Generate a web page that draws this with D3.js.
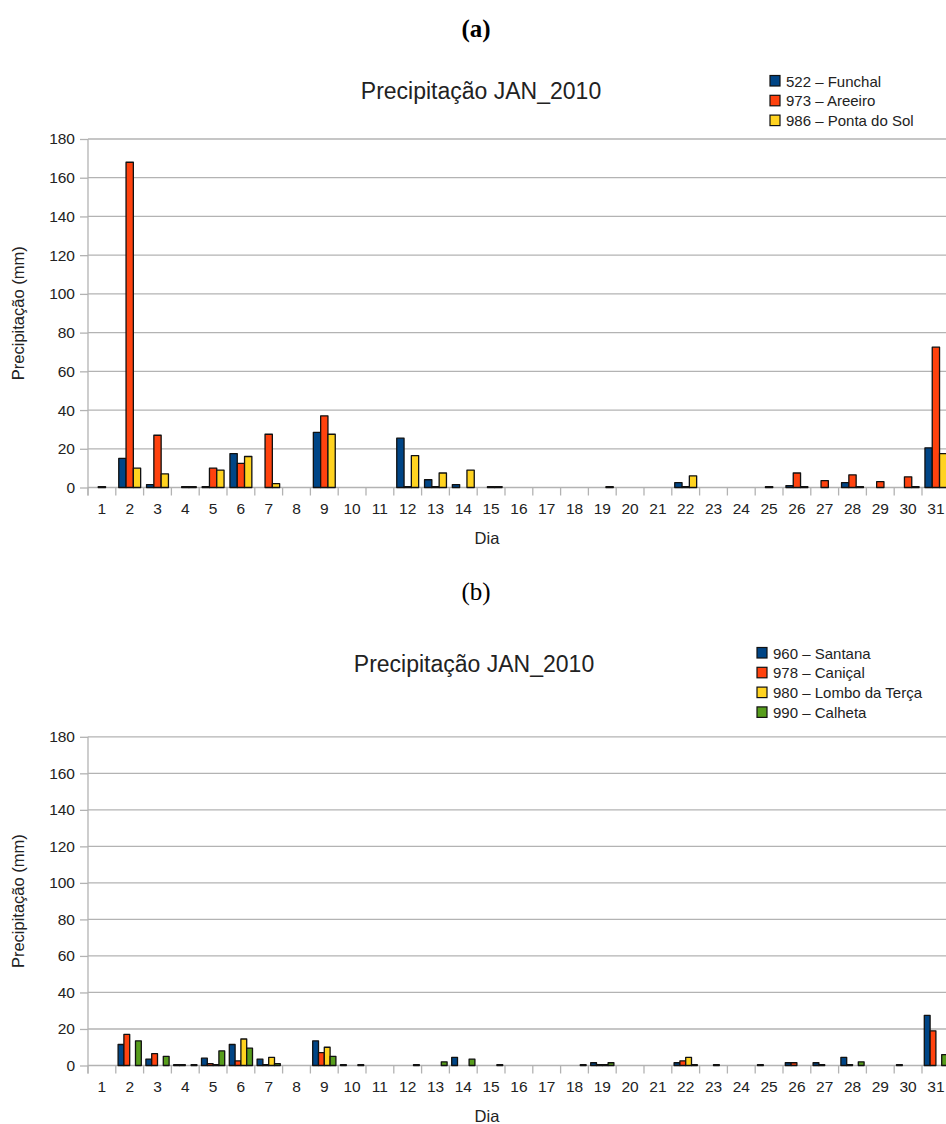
<!DOCTYPE html>
<html>
<head>
<meta charset="utf-8">
<script src="https://cdn.jsdelivr.net/npm/d3@7"></script>
<style>
  html, body { margin: 0; padding: 0; background: #fff; }
  svg { display: block; }
  text { font-family: "Liberation Sans", Arial, sans-serif; fill: #222; }
</style>
</head>
<body>
<svg id="chart" width="946" height="1124"></svg>
<script>
// ---------- DATA ----------
const days = ["1","2","3","4","5","6","7","8","9","10","11","12","13","14","15","16","17","18","19","20","21","22","23","24","25","26","27","28","29","30","31"];
const yTicks = [0, 20, 40, 60, 80, 100, 120, 140, 160, 180];

// Panel (a)
const namesA = ["522 – Funchal", "973 – Areeiro", "986 – Ponta do Sol"];
const funchal522 = [null,15,1.5,null,0,17.5,null,null,28.5,null,null,25.5,4,1.5,null,null,null,null,null,null,null,2.5,null,null,null,1,null,2.5,null,null,20.5];
const areeiro973 = [0,168,27,0,10,12.5,27.5,null,37,null,null,0,0,null,0,null,null,null,null,null,null,0,null,null,0,7.5,3.5,6.5,3,5.5,72.5];
const pontaDoSol986 = [null,10,7,0,9,16,2,null,27.5,null,null,16.5,7.5,9,0.5,null,null,null,0,null,null,6,null,null,null,0,null,0,null,0,17.5];

// Panel (b)
const namesB = ["960 – Santana", "978 – Caniçal", "980 – Lombo da Terça", "990 – Calheta"];
const santana960 = [null,11.5,3.5,0,4,11.5,3.5,null,13.5,0,null,null,null,4.5,null,null,null,null,1.5,null,null,1.5,null,null,0,1.5,1.5,4.5,null,0,27.5];
const canical978 = [null,17,6.5,0,1,2.5,0,null,7,null,null,null,null,null,null,null,null,null,0.5,null,null,2.5,null,null,null,1.5,0,0.5,null,null,19];
const lomboDaTerca980 = [null,null,null,null,0,14.5,4.5,null,10,null,null,null,null,null,null,null,null,null,0.5,null,null,4.5,0,null,null,null,null,null,null,null,null];
const calheta990 = [null,13.5,5,0,8,9.5,1,null,5,0,null,0,2,3.5,0,null,null,0,1.5,null,null,0,null,null,null,null,null,2,null,null,6];

const palette = ["#004586", "#ff420e", "#ffd320", "#579d1c"];

// ---------- DRAW ----------
const svg = d3.select("#chart");

svg.append("text").attr("x", 476).attr("y", 37).attr("text-anchor", "middle")
  .style("font-family", "'Liberation Serif', 'Times New Roman', serif")
  .style("font-weight", "bold").style("font-size", "25px").style("fill", "#000").text("(a)");
svg.append("text").attr("x", 476).attr("y", 600).attr("text-anchor", "middle")
  .style("font-family", "'Liberation Serif', 'Times New Roman', serif")
  .style("font-size", "25px").style("fill", "#000").text("(b)");

function drawPanel(cfg) {
  const g = svg.append("g");
  const x = d3.scaleBand().domain(days).range([88, 88 + 31 * 27.8]).padding(0);
  const y = d3.scaleLinear().domain([0, 180]).range([cfg.y0, cfg.y180]);
  const inner = d3.scaleBand().domain(d3.range(cfg.series.length))
    .range([0, cfg.groupW]);
  const off = (x.bandwidth() - cfg.groupW) / 2;

  // gridlines
  g.append("g").selectAll("line").data(yTicks).join("line")
    .attr("x1", 88).attr("x2", 946)
    .attr("y1", d => y(d)).attr("y2", d => y(d))
    .attr("stroke", "#b3b3b3").attr("stroke-width", 1.3);

  // y axis
  const yAxis = d3.axisLeft(y).tickValues(yTicks).tickSize(8).tickPadding(5);
  const ya = g.append("g").attr("transform", "translate(88,0)").call(yAxis);
  ya.select(".domain").attr("stroke", "#b3b3b3").attr("stroke-width", 1.3)
    .attr("d", `M0,${cfg.y180}V${cfg.y0 + 8}`);
  ya.selectAll(".tick line").attr("stroke", "#b3b3b3").attr("stroke-width", 1.3);
  ya.selectAll(".tick text").style("font-size", "15.5px").style("fill", "#222")
    .style("font-family", "'Liberation Sans', Arial, sans-serif");

  // x axis ticks at category boundaries
  const bounds = days.map(d => x(d));
  g.append("g").selectAll("line").data(bounds).join("line")
    .attr("x1", d => d).attr("x2", d => d)
    .attr("y1", cfg.y0).attr("y2", cfg.y0 + 8)
    .attr("stroke", "#b3b3b3").attr("stroke-width", 1.3);
  g.append("g").selectAll("text").data(days).join("text")
    .attr("x", d => x(d) + x.bandwidth() / 2)
    .attr("y", cfg.y0 + 26)
    .attr("text-anchor", "middle")
    .style("font-size", "15.5px").text(d => d);

  // bars
  cfg.series.forEach((vals, si) => {
    const pts = days.map((d, i) => ({ d, v: vals[i] })).filter(p => p.v !== null);
    g.append("g").selectAll("rect").data(pts).join("rect")
      .attr("x", p => x(p.d) + off + inner(si))
      .attr("width", inner.bandwidth())
      .attr("y", p => Math.min(y(p.v), cfg.y0 - 0.8))
      .attr("height", p => Math.max(cfg.y0 - y(p.v), 0.8))
      .attr("fill", palette[si])
      .attr("stroke", "#111").attr("stroke-width", 1.3)
      .attr("stroke-linejoin", "round");
  });

  // titles
  g.append("text").attr("x", cfg.titleX).attr("y", cfg.titleY).attr("text-anchor", "middle")
    .style("font-size", "23px").text("Precipitação JAN_2010");
  g.append("text").attr("x", 487).attr("y", cfg.y0 + 56).attr("text-anchor", "middle")
    .style("font-size", "16.5px").text("Dia");
  g.append("text")
    .attr("transform", `translate(24,${(cfg.y0 + cfg.y180) / 2}) rotate(-90)`)
    .attr("text-anchor", "middle")
    .style("font-size", "16.5px").text("Precipitação (mm)");

  // legend
  const lg = g.append("g");
  cfg.names.forEach((n, i) => {
    const yy = cfg.legY + i * 19.8;
    lg.append("rect").attr("x", cfg.legX).attr("y", yy - 5.5).attr("width", 10).attr("height", 10.5)
      .attr("fill", palette[i]).attr("stroke", "#111").attr("stroke-width", 1.2);
    lg.append("text").attr("x", cfg.legX + 16).attr("y", yy + 5.5)
      .style("font-size", "15px").text(n);
  });
}

drawPanel({
  series: [funchal522, areeiro973, pontaDoSol986],
  names: namesA,
  y0: 487.5, y180: 139,
  groupW: 21.9,
  titleX: 481, titleY: 99,
  legX: 770, legY: 81
});

drawPanel({
  series: [santana960, canical978, lomboDaTerca980, calheta990],
  names: namesB,
  y0: 1065.5, y180: 736.8,
  groupW: 23.2,
  titleX: 474, titleY: 672,
  legX: 757, legY: 653
});
</script>
</body>
</html>
